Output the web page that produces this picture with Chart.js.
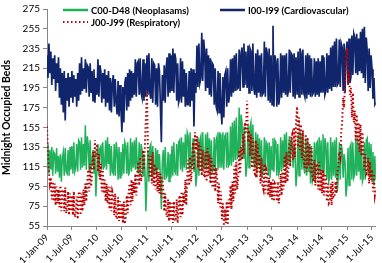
<!DOCTYPE html>
<html>
<head>
<meta charset="utf-8">
<script src="https://cdn.jsdelivr.net/npm/chart.js@4.4.0/dist/chart.umd.min.js"></script>
<style>
    html, body { margin: 0; padding: 0; background: #fff; }
    #wrap { width: 382px; height: 263px; }
</style>
</head>
<body>
<div id="wrap"><canvas id="bedsChart" width="382" height="263"></canvas></div>
<script>
// weekly readings, 52 per year from 1-Jan-09 (last year runs to end of July 2015)
const startYear = 2009;
const weeksPerYear = 52;

const tickLabels = ['1-Jan-09', '1-Jul-09', '1-Jan-10', '1-Jul-10', '1-Jan-11', '1-Jul-11', '1-Jan-12',
    '1-Jul-12', '1-Jan-13', '1-Jul-13', '1-Jan-14', '1-Jul-14', '1-Jan-15', '1-Jul-15'];

const neoplasms = [
    // 2009
    118,138,108,132, 112,135,106,130, 128,108,134,110,126, 104,128,100,124, 130,106,134,110, 108,132,106,135,112,
    136,108,140,110, 114,138,110,142, 140,112,145,114,138, 116,157,112,146, 138,110,142,114, 118,132,108,128,85,
    // 2010
    112,138,106,134, 136,112,140,114, 116,142,112,145,118, 138,106,136,110, 108,138,106,140, 132,102,135,104,130,
    106,138,108,140, 136,108,140,106, 112,144,110,140,114, 142,112,145,114, 108,140,106,138, 132,106,128,112,70,
    // 2011
    104,132,100,135, 138,106,136,108, 110,134,106,132,112, 128,104,72,120, 132,102,135,104, 106,130,100,128,104,
    136,106,140,110, 108,138,106,140, 142,112,145,110,140, 114,148,112,150, 146,112,150,114, 116,144,110,130,95,
    // 2012
    108,145,106,142, 146,112,150,114, 116,148,112,150,118, 144,106,142,110, 112,145,110,142, 146,112,150,114,148,
    114,150,112,146, 148,114,150,116, 118,156,116,160,120, 162,122,165,124, 126,175,122,168, 160,124,156,140,105,
    // 2013
    118,158,114,155, 160,122,158,120, 114,150,110,148,116, 144,106,142,108, 112,145,110,140, 138,106,140,104,136,
    112,144,110,142, 140,106,138,108, 112,145,110,142,114, 148,116,150,118, 120,146,116,144, 138,114,136,128,95,
    // 2014
    110,148,106,150, 146,112,150,114, 108,144,106,142,110, 138,98,136,100, 104,140,100,138, 140,106,145,108,142,
    110,148,106,144, 138,102,140,100, 104,145,102,140,106, 142,104,145,90, 106,140,102,138, 132,104,128,120,85,
    // 2015
    98,134,96,135, 138,102,140,104, 108,144,106,145,110, 138,102,136,100, 104,140,102,142, 144,106,140,104,138,
    100,130,96,126,102
];

const cardiovascular = [
    // 2009
    228,205,240,210, 232,198,225,204, 228,192,220,200,226, 185,215,178,210, 170,212,162,205, 182,210,176,206,185,
    212,180,208,186, 204,176,210,182, 220,188,226,192,215, 194,224,190,218, 216,186,220,190, 212,182,214,180,205,
    // 2010
    188,224,186,218, 212,180,210,184, 214,176,208,180,212, 172,205,170,200, 208,176,204,180, 168,202,166,198,172,
    150,196,160,200, 206,172,210,176, 214,182,212,185,210, 188,224,186,220, 222,188,225,190, 185,224,182,220,186,
    // 2011
    228,188,230,190, 184,225,180,220, 218,178,215,176,220, 212,176,140,208, 182,218,180,215, 226,186,230,190,228,
    192,235,190,230, 224,182,220,180, 184,225,180,222,186, 214,176,210,178, 178,212,176,215, 182,214,156,210,190,
    // 2012
    238,196,240,200, 205,251,202,244, 232,192,235,195,228, 188,225,186,220, 218,178,215,176, 172,212,170,210,175,
    158,206,165,208, 212,176,215,180, 188,224,186,225,190, 228,192,230,194, 195,234,192,230, 236,196,240,198,232,
    // 2013
    195,238,190,235, 232,192,240,195, 188,230,185,234,190, 228,186,230,188, 190,242,186,236, 230,182,235,180,228,
    178,258,176,228, 222,176,225,178, 186,230,185,228,190, 228,188,230,186, 192,234,190,230, 228,186,230,184,226,
    // 2014
    188,232,186,235, 230,188,234,190, 186,228,184,230,188, 228,186,225,188, 190,225,186,222, 188,225,186,222,190,
    228,190,226,188, 192,230,190,228, 194,236,192,238,196, 242,196,245,198, 200,244,196,240, 236,192,240,190,232,
    // 2015
    242,198,245,200, 206,248,208,250, 246,210,250,208,245, 212,252,210,255, 205,257,200,246, 232,192,235,195,228,
    214,184,205,178,180
];

const respiratory = [
    // 2009
    156,128,110,98, 104,82,100,80, 98,76,95,78,92, 74,96,70,92, 90,70,94,68, 72,90,66,88,70,
    86,66,90,64, 68,85,62,88, 90,66,88,70,92, 76,98,80,100, 112,90,118,95, 108,130,112,142,125,
    // 2010
    138,110,128,102, 118,90,112,88, 102,80,98,78,95, 72,94,70,90, 86,66,88,64, 62,84,60,80,62,
    78,58,80,57, 64,86,68,90, 98,76,102,80,100, 88,108,86,110, 120,96,125,100, 108,132,112,138,165,
    // 2011
    191,132,118,104, 126,98,130,96, 118,92,115,90,110, 88,108,84,104, 92,70,88,68, 64,82,60,80,62,
    78,58,80,60, 62,82,58,78, 86,64,90,66,88, 78,102,76,105, 122,96,125,100, 115,140,112,150,132,
    // 2012
    146,114,140,110, 136,106,132,108, 104,130,100,134,106, 128,98,124,96, 94,118,90,114, 104,78,98,74,90,
    62,78,55,72, 58,80,56,82, 74,96,72,100,80, 116,88,120,92, 104,132,108,135, 122,148,128,160,150,
    // 2013
    182,140,152,126, 148,114,144,110, 108,142,104,138,110, 128,98,124,96, 92,118,88,112, 108,86,104,84,100,
    82,102,80,98, 96,80,100,78, 88,108,86,110,92, 126,98,130,100, 112,142,115,145, 148,122,155,125,160,
    // 2014
    176,135,165,132, 158,124,152,120, 114,148,110,145,116, 138,108,134,104, 100,122,96,118, 116,92,120,90,112,
    88,112,86,108, 102,80,98,78, 80,98,76,100,84, 84,100,88,110, 115,130,125,150, 160,185,175,205,225,
    // 2015
    236,200,212,188, 195,165,190,160, 172,142,168,138,160, 130,158,126,150, 132,112,128,108, 110,124,98,120,102,
    112,90,108,86,92
];

const monthNames = ['Jan','Feb','Mar','Apr','May','Jun','Jul','Aug','Sep','Oct','Nov','Dec'];

function dayOf(y, m, d) {
    return (Date.UTC(y, m, d) - Date.UTC(startYear, 0, 1)) / 86400000;
}

function labelToDay(label) {
    const parts = label.split('-');
    return dayOf(2000 + parseInt(parts[2]), monthNames.indexOf(parts[1]), parseInt(parts[0]));
}

function toPoints(values) {
    return values.map((v, i) => ({
        x: dayOf(startYear + Math.floor(i / weeksPerYear), 0, 1 + 7 * (i % weeksPerYear)),
        y: v
    }));
}

const tickDays = tickLabels.map(labelToDay);
const fontFamily = 'Lato, "Liberation Sans", sans-serif';

// legend drawn inside the plot, two rows like the original
const insideLegend = {
    id: 'insideLegend',
    afterDraw(chart) {
        const c = chart.ctx;
        const spots = [[63, 10], [220, 10], [63, 22]];
        c.save();
        c.font = 'bold 9.5px ' + fontFamily;
        c.textBaseline = 'middle';
        chart.data.datasets.forEach((ds, i) => {
            const [x, y] = spots[i];
            c.strokeStyle = ds.borderColor;
            c.lineWidth = ds.borderDash ? 2 : 2.5;
            c.setLineDash(ds.borderDash || []);
            c.beginPath();
            c.moveTo(x, y);
            c.lineTo(x + 25, y);
            c.stroke();
            c.setLineDash([]);
            c.fillStyle = '#000';
            c.fillText(ds.label, x + 28, y + 0.5);
        });
        c.restore();
    }
};

const ctx = document.getElementById('bedsChart').getContext('2d');
const bedsChart = new Chart(ctx, {
    type: 'line',
    data: {
        datasets: [{
            label: 'C00-D48 (Neoplasams)',
            data: toPoints(neoplasms),
            borderColor: '#1fb25a',
            borderWidth: 1.5,
            order: 2
        }, {
            label: 'I00-I99 (Cardiovascular)',
            data: toPoints(cardiovascular),
            borderColor: '#10256b',
            borderWidth: 1.7,
            order: 1
        }, {
            label: 'J00-J99 (Respiratory)',
            data: toPoints(respiratory),
            borderColor: '#c00000',
            borderWidth: 2,
            borderDash: [1.5, 2.5],
            order: 0
        }]
    },
    options: {
        responsive: false,
        animation: false,
        events: [],
        elements: { point: { radius: 0 }, line: { tension: 0 } },
        layout: { padding: { top: 1, right: 4, left: 0, bottom: 0 } },
        scales: {
            x: {
                type: 'linear',
                min: 0,
                max: dayOf(2015, 6, 30),
                afterBuildTicks: (scale) => { scale.ticks = tickDays.map(v => ({ value: v })); },
                afterFit: (scale) => { scale.height = 37; },
                grid: { drawOnChartArea: false, color: '#868686', tickLength: 4 },
                border: { color: '#868686' },
                ticks: {
                    autoSkip: false,
                    minRotation: 45,
                    maxRotation: 45,
                    padding: 2,
                    color: '#000',
                    font: { family: fontFamily, size: 9.5 },
                    callback: (value, index) => tickLabels[index]
                }
            },
            y: {
                min: 55,
                max: 275,
                afterFit: (scale) => { scale.width = 47; },
                grid: { drawOnChartArea: false, color: '#868686', tickLength: 4 },
                border: { color: '#868686' },
                ticks: {
                    stepSize: 20,
                    padding: 3,
                    color: '#000',
                    font: { family: fontFamily, size: 10 }
                },
                title: {
                    display: true,
                    text: 'Midnight Occupied Beds',
                    color: '#000',
                    padding: 0,
                    font: { family: fontFamily, size: 10.5, weight: 'bold' }
                }
            }
        },
        plugins: {
            legend: { display: false },
            tooltip: { enabled: false }
        }
    },
    plugins: [insideLegend]
});
</script>
</body>
</html>
